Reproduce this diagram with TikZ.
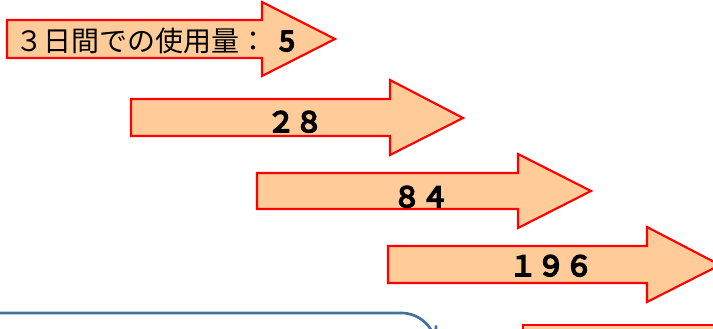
\documentclass[tikz,border=0pt]{standalone}
\usepackage{fontspec}
\setmainfont{Noto Sans CJK JP}
\newfontfamily\jpfont{Noto Sans CJK JP}
\newfontfamily\jpbold[RawFeature={embolden=6}]{Noto Sans CJK JP}
\definecolor{peach}{HTML}{FFCC99}
\definecolor{arrowred}{HTML}{FF0000}
\definecolor{frameblue}{HTML}{41719C}
\begin{document}
\begin{tikzpicture}[x=0.75pt,y=-0.75pt,
  blockarrow/.style={draw=arrowred,fill=peach,line width=1.6pt,line join=miter},
  amount/.style={inner sep=0pt,anchor=base,font=\jpbold\fontsize{21pt}{21pt}\selectfont},
  caption/.style={inner sep=0pt,anchor=base west,font=\jpfont\fontsize{21pt}{21pt}\selectfont}]
\useasboundingbox (0,0) rectangle (713,328);
\clip (0,0) rectangle (713,328);

% block arrows, each one step further down and to the right
\draw[blockarrow] (7,20) -- (262,20) -- (262,2) -- (335,39) -- (262,76) -- (262,58) -- (7,58) -- cycle;
\draw[blockarrow] (131,99) -- (390,99) -- (390,80) -- (463,118) -- (390,155) -- (390,136) -- (131,136) -- cycle;
\draw[blockarrow] (257,173) -- (518,173) -- (518,154) -- (591,191) -- (518,228) -- (518,209) -- (257,209) -- cycle;
\draw[blockarrow] (388,246) -- (647,246) -- (647,227) -- (720,265) -- (647,302) -- (647,283) -- (388,283) -- cycle;

% labels
\node[caption] (t1) at (15,51) {３日間での使用量：{\jpbold\kern9pt 5}};
\node[amount] (t2) at (295,132) {２８};
\node[amount] (t3) at (421,207) {８４};
\node[amount] (t4) at (551,276) {１９６};

% panels running off the lower edge
\draw[frameblue,line width=2pt,fill=white,rounded corners=26] (-10,313) -- (436,313) -- (436,360) -- (-10,360);
\draw[blockarrow] (523,325) rectangle (730,360);
\end{tikzpicture}
\end{document}
